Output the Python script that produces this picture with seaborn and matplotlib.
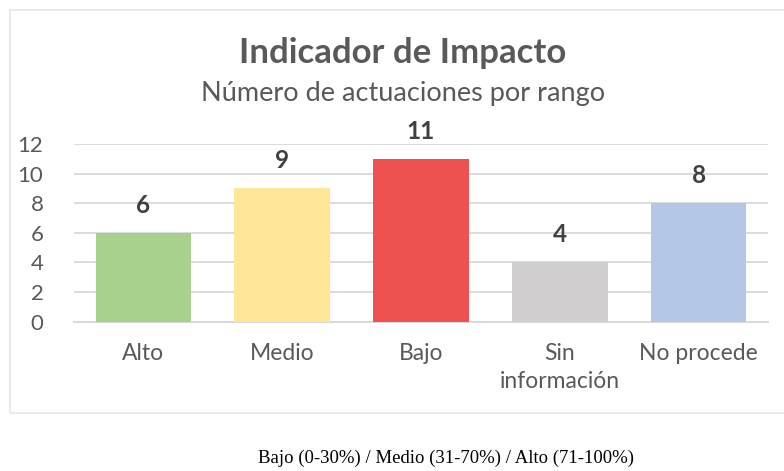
import matplotlib
matplotlib.use("Agg")
import matplotlib.pyplot as plt
import seaborn as sns
import pandas as pd
from matplotlib.patches import Rectangle

sns.set_theme(style="white")
plt.rcParams['font.family'] = ['Lato', 'DejaVu Sans']

# Chart data
categories = ['Alto', 'Medio', 'Bajo', 'Sin\ninformación', 'No procede']
values = [6, 9, 11, 4, 8]
bar_colors = ['#A9D18E', '#FFE699', '#EF5050', '#D0CECE', '#B4C7E7']
y_ticks = [0, 2, 4, 6, 8, 10, 12]

title = 'Indicador de Impacto'
subtitle = 'Número de actuaciones por rango'
footnote = 'Bajo (0-30%) / Medio (31-70%) / Alto (71-100%)'

df = pd.DataFrame({'rango': categories, 'actuaciones': values})

W, H = 784, 471
fig = plt.figure(figsize=(W / 100, H / 100), dpi=100)
ax = fig.add_axes([74 / W, 1 - 321.7 / H, (768 - 74) / W, (321.7 - 144) / H])

# chart frame like the Excel chart area
fig.patches.append(Rectangle((10, 58), 800, 403, transform=None, fill=False,
                             edgecolor='#E6E6E6', linewidth=1.2))

sns.barplot(data=df, x='rango', y='actuaciones', hue='rango', palette=bar_colors,
            legend=False, width=0.69, saturation=1, linewidth=0, ax=ax, zorder=3)

for c in ax.containers:
    ax.bar_label(c, padding=11.5, fontsize=17.5, fontweight='bold', color='#404040')

ax.set_ylim(0, 12)
ax.set_yticks(y_ticks)
ax.set_xlim(-0.5, len(categories) - 0.5)
ax.yaxis.grid(True, color='#D9D9D9', linewidth=1.3, zorder=0)
ax.set_axisbelow(True)
for s in ['top', 'right', 'left']:
    ax.spines[s].set_visible(False)
ax.spines['bottom'].set_color('#D9D9D9')
ax.spines['bottom'].set_linewidth(1.5)
ax.tick_params(axis='both', length=0, colors='#595959')
ax.tick_params(axis='y', labelsize=16, pad=22)
ax.tick_params(axis='x', labelsize=16.5, pad=15)
for lbl in ax.get_xticklabels():
    lbl.set_linespacing(1.45)
ax.set_xlabel('')
ax.set_ylabel('')

fig.text(403 / W, 1 - 53 / H, title, ha='center', va='center', fontsize=25,
         fontweight='bold', color='#595959')
fig.text(403 / W, 1 - 94 / H, subtitle, ha='center', va='center', fontsize=19.5,
         color='#595959')
fig.text(446 / W, 1 - 458 / H, footnote, ha='center', va='center', fontsize=13.5,
         family=['Liberation Serif', 'DejaVu Serif'], color='black')

fig.savefig('out.png', dpi=100)
